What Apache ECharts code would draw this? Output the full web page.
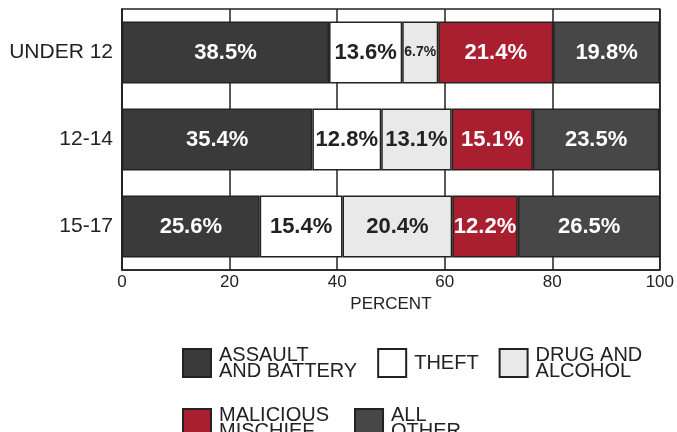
<!DOCTYPE html>
<html>
<head>
<meta charset="utf-8">
<script src="https://cdn.jsdelivr.net/npm/echarts@6/dist/echarts.min.js"></script>
<style>
  html, body { margin: 0; padding: 0; background: #fff; }
  #chart { width: 677px; height: 432px; }
</style>
</head>
<body>
<div id="chart"></div>
<script>
// age groups (top to bottom)
var ageGroups = ["UNDER 12", "12-14", "15-17"];
// percent share of each offense type per age group
var assault = [38.5, 35.4, 25.6];
var theft = [13.6, 12.8, 15.4];
var drug = [6.7, 13.1, 20.4];
var mischief = [21.4, 15.1, 12.2];
var other = [19.8, 23.5, 26.5];
var xTicks = [0, 20, 40, 60, 80, 100];

var names = ["ASSAULT\nAND BATTERY", "THEFT", "DRUG AND\nALCOHOL", "MALICIOUS\nMISCHIEF", "ALL\nOTHER"];
var values = [assault, theft, drug, mischief, other];
var fills = ["#3a3a3a", "#ffffff", "#e9e9e9", "#a91f2f", "#474747"];
var labelColors = ["#fff", "#222", "#222", "#fff", "#fff"];

var chart = echarts.init(document.getElementById('chart'));

var series = names.map(function (name, i) {
  return {
    name: name,
    type: 'bar',
    stack: 'all',
    barWidth: 62,
    itemStyle: { color: fills[i], borderColor: '#222', borderWidth: 1.5 },
    label: {
      show: true,
      position: 'inside',
      formatter: '{c}%',
      color: labelColors[i],
      fontFamily: 'Liberation Sans',
      fontWeight: 'bold',
      fontSize: 22
    },
    data: values[i].map(function (v) {
      // narrow slices get a smaller label
      return v < 8 ? { value: v, label: { fontSize: 14 } } : v;
    })
  };
});

var legendText = { fontSize: 20, lineHeight: 16, color: '#222', padding: [0, 0, 0, 3] };

chart.setOption({
  animation: false,
  textStyle: { fontFamily: 'Liberation Sans' },
  grid: {
    left: 122, right: 17, top: 9, bottom: 162,
    show: true, borderColor: '#222', borderWidth: 1.5,
    backgroundColor: 'transparent'
  },
  legend: [
    {
      data: names.slice(0, 3),
      left: 182, top: 345, padding: 0,
      itemWidth: 28, itemHeight: 28, itemGap: 20,
      icon: 'rect',
      textStyle: legendText
    },
    {
      data: names.slice(3),
      left: 182, top: 405, padding: 0,
      itemWidth: 28, itemHeight: 28, itemGap: 25,
      icon: 'rect',
      textStyle: legendText
    }
  ],
  xAxis: {
    type: 'value',
    min: xTicks[0], max: xTicks[xTicks.length - 1], interval: 20,
    name: 'PERCENT',
    nameLocation: 'middle',
    nameGap: 21,
    nameTextStyle: { fontSize: 17, color: '#222' },
    axisLine: { show: true, lineStyle: { color: '#222', width: 1.5 } },
    axisTick: { show: false },
    axisLabel: { fontSize: 17, color: '#222', margin: 4 },
    splitLine: { show: true, lineStyle: { color: '#222', width: 1.5 } }
  },
  yAxis: {
    type: 'category',
    inverse: true,
    data: ageGroups,
    axisLine: { show: true, lineStyle: { color: '#222', width: 1.5 } },
    axisTick: { show: false },
    axisLabel: { fontSize: 21, color: '#222', margin: 9 }
  },
  series: series
});
</script>
</body>
</html>
